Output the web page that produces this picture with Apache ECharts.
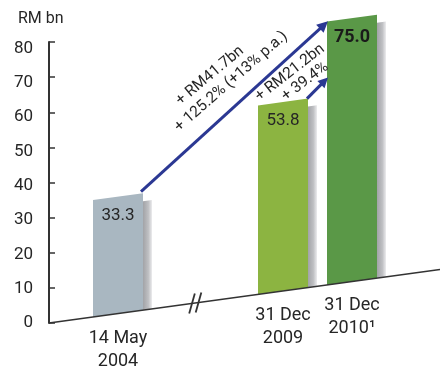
<!DOCTYPE html>
<html><head><meta charset="utf-8">
<style>html,body{margin:0;padding:0;background:#fff}#c{width:440px;height:374px}</style>
<script src="https://cdn.jsdelivr.net/npm/echarts@6/dist/echarts.min.js"></script>
</head><body><div id="c"></div>
<script>
// ---- data ----
const categories = ['14 May\n2004', '31 Dec\n2009', '31 Dec\n2010\u00B9'];
const values = [33.3, 53.8, 75.0];
const valueLabels = ['33.3', '53.8', '75.0'];
const yTickValues = [0, 10, 20, 30, 40, 50, 60, 70, 80];
const yUnit = 'RM bn';
const arrow1Labels = ['+ RM41.7bn', '+ 125.2% (+13% p.a.)'];
const arrow2Labels = ['+ RM21.2bn', '+ 39.4%'];
const arrow2TargetValue = 59;

// ---- layout / style ----
const GRID_LEFT = 49, GRID_TOP = 42, GRID_BOTTOM = 51;
const SKEW = 0.137;
const X_MAX = 391;
const xCenters = [69, 234, 303];
const BAR_W = 50;
const barColors = ['#a9b7c1', '#8cb441', '#5a9847'];
const ARROW_COLOR = '#2b3893';
const TEXT_COLOR = '#262626';
const FONT = 'Roboto, sans-serif';

const chart = echarts.init(document.getElementById('c'), null, { renderer: 'canvas' });

function P(api, x, v) {
  const p = api.coord([x, v]);
  return [p[0], p[1] - SKEW * (p[0] - GRID_LEFT)];
}

function arrow(from, to, lw, head) {
  const dx = to[0] - from[0], dy = to[1] - from[1];
  const len = Math.sqrt(dx * dx + dy * dy);
  const ux = dx / len, uy = dy / len;
  const base = [to[0] - ux * head, to[1] - uy * head];
  const nx = -uy, ny = ux;
  const hw = head * 0.5;
  return [
    { type: 'line', shape: { x1: from[0], y1: from[1], x2: base[0] + ux * 1, y2: base[1] + uy * 1 },
      style: { stroke: ARROW_COLOR, lineWidth: lw } },
    { type: 'polygon', shape: { points: [to, [base[0] + nx * hw, base[1] + ny * hw], [base[0] - nx * hw, base[1] - ny * hw]] },
      style: { fill: ARROW_COLOR } }
  ];
}

function rotText(text, x, y, deg, size) {
  return { type: 'text', x: x, y: y, rotation: deg * Math.PI / 180,
    style: { text: text, fill: TEXT_COLOR, font: size + 'px ' + FONT,
      align: 'center', verticalAlign: 'middle' } };
}

const option = {
  animation: false,
  grid: { left: GRID_LEFT, right: 0, top: GRID_TOP, bottom: GRID_BOTTOM, containLabel: false, outerBoundsMode: 'none' },
  xAxis: { type: 'value', min: 0, max: X_MAX, show: false },
  yAxis: [
    { type: 'value', min: yTickValues[0], max: yTickValues[yTickValues.length - 1], interval: 10, position: 'left', offset: 0,
      axisLine: { show: true, lineStyle: { color: '#333', width: 2 } },
      axisTick: { show: true, inside: true, length: 6, lineStyle: { color: '#333', width: 1.5 } },
      axisLabel: { show: false }, splitLine: { show: false } },
    { type: 'value', min: 0, max: 81.9, interval: 10, position: 'left', offset: 0,
      axisLine: { show: false }, axisTick: { show: false }, splitLine: { show: false },
      axisLabel: { show: true, margin: 16, color: TEXT_COLOR, fontSize: 17, fontFamily: FONT, showMaxLabel: false,
        formatter: v => (yTickValues.indexOf(v) >= 0 ? String(v) : '') } }
  ],
  graphic: [
    { type: 'text', left: 18, top: 11, style: { text: yUnit, font: '16px ' + FONT, fill: TEXT_COLOR } }
  ],
  series: [
    {
      type: 'custom', clip: false, yAxisIndex: 0,
      data: values.map((v, i) => [i, v]),
      renderItem: function (params, api) {
        const i = api.value(0), v = api.value(1);
        const xc = xCenters[i];
        const tl = P(api, xc - BAR_W / 2, v), tr = P(api, xc + BAR_W / 2, v);
        const br = P(api, xc + BAR_W / 2, 0), bl = P(api, xc - BAR_W / 2, 0);
        const sw = 9;
        const shadow = {
          type: 'polygon',
          shape: { points: [[tr[0], tr[1] + 8], [tr[0] + sw, tr[1] + 8 - sw * SKEW], [br[0] + sw, br[1] - sw * SKEW], [br[0], br[1]]] },
          style: { fill: new echarts.graphic.LinearGradient(0, 0, 1, 0, [
            { offset: 0, color: '#a2a3a7' }, { offset: 0.6, color: '#bfc0c3' }, { offset: 1, color: '#ececee' }]) }
        };
        const bar = { type: 'polygon', shape: { points: [tl, tr, br, bl] }, style: { fill: barColors[i] } };
        const top = P(api, xc, v);
        const label = { type: 'text', x: top[0], y: top[1] + 19,
          style: { text: valueLabels[i], fill: i === 2 ? '#1a1a1a' : TEXT_COLOR,
            font: (i === 2 ? 'bold 18px ' : '17px ') + FONT, align: 'center', verticalAlign: 'middle' } };
        const bpt = P(api, xc, 0);
        const cat = { type: 'text', x: bpt[0], y: bpt[1] + 13,
          style: { text: categories[i], fill: TEXT_COLOR, font: '18px ' + FONT, align: 'center', verticalAlign: 'top', lineHeight: 23 } };
        return { type: 'group', children: [shadow, bar, label, cat] };
      },
      z: 2
    },
    {
      type: 'custom', clip: false, yAxisIndex: 0,
      data: [[0, 0]],
      renderItem: function (params, api) {
        const children = [];
        const b0 = P(api, 0, 0), b1 = P(api, X_MAX, 0);
        children.push({ type: 'line', shape: { x1: b0[0], y1: b0[1], x2: b1[0], y2: b1[1] }, style: { stroke: '#333', lineWidth: 1.6 } });
        [143, 149.5].forEach(function (bx) {
          const c = P(api, bx, 0);
          children.push({ type: 'line', shape: { x1: c[0] - 2.8, y1: c[1] + 10, x2: c[0] + 2.8, y2: c[1] - 10 }, style: { stroke: '#333', lineWidth: 1.8 } });
        });
        const A = P(api, xCenters[0] + BAR_W / 2 - 2, values[0] + 0.5);
        const B = P(api, xCenters[2] - BAR_W / 2 + 1, values[2]);
        const C = P(api, xCenters[1] + BAR_W / 2 - 1, values[1]);
        const D = P(api, xCenters[2] - BAR_W / 2 + 1, arrow2TargetValue);
        arrow(A, B, 3, 11).forEach(e => children.push(e));
        arrow(C, D, 3, 10).forEach(e => children.push(e));
        children.push(rotText(arrow1Labels[0], A[0] + 69, A[1] - 116, 40, 15.5));
        children.push(rotText(arrow1Labels[1], A[0] + 90, A[1] - 110, 41, 15.5));
        children.push(rotText(arrow2Labels[0], C[0] - 17, C[1] - 26, 38, 15.5));
        children.push(rotText(arrow2Labels[1], C[0] - 2, C[1] - 17, 37, 15.5));
        return { type: 'group', children: children };
      },
      z: 3
    }
  ]
};
chart.setOption(option);
</script>
</body></html>
